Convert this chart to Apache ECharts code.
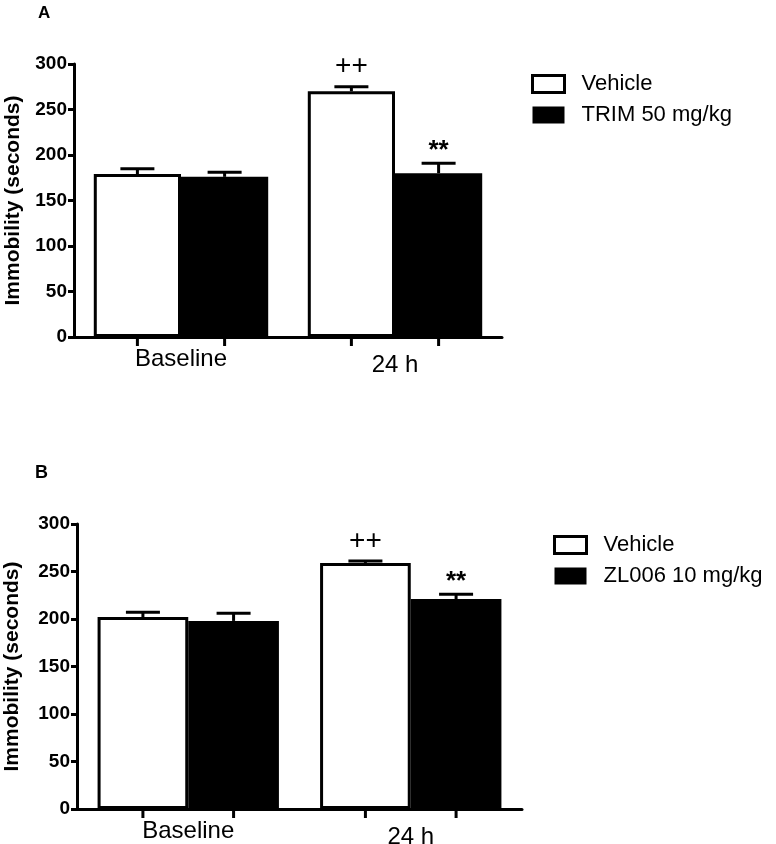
<!DOCTYPE html>
<html lang="en" style="height: 100%">
<head>
  <meta charset="utf-8">
</head>
<body style="height: 100%; margin: 0; background: #fff">
  <div id="container" style="height: 100%"></div>

  <script type="text/javascript" src="https://cdn.jsdelivr.net/npm/echarts@6/dist/echarts.min.js"></script>

  <script type="text/javascript">
    var dom = document.getElementById('container');
    var myChart = echarts.init(dom, null, { renderer: 'canvas' });

    // data
    var categories = ['Baseline', '24 h'];
    var vehicleA = [179, 270];
    var vehicleAErr = [185, 275];
    var trimA = [176, 180];
    var trimAErr = [181, 191];
    var marksA = ['', '', '++', '**']; // vehicle base, trim base, vehicle 24h, trim 24h

    var vehicleB = [202, 259];
    var vehicleBErr = [207, 261];
    var zlB = [198, 221];
    var zlBErr = [206, 226];
    var marksB = ['', '', '++', '**'];

    var GAP = 0.185;
    var FONT = 'Liberation Sans, Arial, sans-serif';

    // rows: [category, mean, errTop, slot(0 left / 1 right)]
    function errRows(m0, e0, m1, e1) {
      var rows = [];
      for (var i = 0; i < categories.length; i++) {
        rows.push([i, m0[i], e0[i], 0]);
        rows.push([i, m1[i], e1[i], 1]);
      }
      return rows;
    }

    function makeRender(marks) {
      return function (params, api) {
        var cat = api.value(0);
        var base = api.coord([cat, api.value(1)]);
        var top = api.coord([cat, api.value(2)]);
        var zero = api.coord([cat, 0]);
        var band = api.size([1, 0])[0];
        var barW = band * (1 - GAP) / 2;
        var x = base[0] + (api.value(3) === 0 ? -barW / 2 : barW / 2);
        var lw = 3;
        var children = [
          { type: 'line', shape: { x1: x, y1: base[1], x2: x, y2: top[1] }, style: { stroke: '#000', lineWidth: lw } },
          { type: 'line', shape: { x1: x - 17, y1: top[1], x2: x + 17, y2: top[1] }, style: { stroke: '#000', lineWidth: lw } },
          { type: 'line', shape: { x1: x, y1: zero[1], x2: x, y2: zero[1] + 9 }, style: { stroke: '#000', lineWidth: lw } }
        ];
        var m = marks[params.dataIndex];
        if (m) {
          children.push({
            type: 'text',
            style: {
              text: m, x: x, y: top[1] + (m === '**' ? 1 : -6),
              align: 'center', verticalAlign: 'bottom',
              font: (m === '**' ? 'bold 26px ' : '28px ') + FONT, fill: '#000'
            }
          });
        }
        return { type: 'group', children: children };
      };
    }

    function yAxisOpt(gridIndex, gap) {
      return {
        type: 'value', gridIndex: gridIndex, min: 0, max: 300, interval: 50,
        name: 'Immobility (seconds)', nameLocation: 'middle', nameGap: gap,
        nameTextStyle: { fontFamily: FONT, fontWeight: 'bold', fontSize: 21, color: '#000' },
        axisLine: { show: true, lineStyle: { color: '#000', width: 3 } },
        axisTick: { show: true, length: 6, lineStyle: { color: '#000', width: 3 } },
        axisLabel: { fontFamily: FONT, fontWeight: 'bold', fontSize: 19, color: '#000', margin: 7 },
        splitLine: { show: false }
      };
    }

    function xAxisOpt(gridIndex) {
      return {
        type: 'category', gridIndex: gridIndex, data: categories,
        axisLine: { lineStyle: { color: '#000', width: 3 } },
        axisTick: { show: false },
        axisLabel: {
          margin: 10,
          formatter: function (v) { return v === '24 h' ? '{h|' + v + '}' : '{b|' + v + '}'; },
          rich: {
            b: { fontFamily: FONT, fontSize: 24, color: '#000' },
            h: { fontFamily: FONT, fontSize: 24, color: '#000', padding: [6, 0, 0, 0] }
          }
        }
      };
    }

    var whiteBar = { color: '#fff', borderColor: '#000', borderWidth: 3 };
    var blackBar = { color: '#000', borderColor: '#000', borderWidth: 3 };

    function legendOpt(left, top, other) {
      return {
        orient: 'vertical', left: left, top: top, padding: 0,
        itemWidth: 32, itemHeight: 17, itemGap: 9,
        textStyle: { fontFamily: FONT, fontSize: 22, color: '#000', padding: [0, 0, 0, 12] },
        data: [
          { name: 'Vehicle', icon: 'rect', itemStyle: { color: '#fff', borderColor: '#000', borderWidth: 3 } },
          { name: other, icon: 'rect', itemStyle: { color: '#000', borderColor: '#000', borderWidth: 0 } }
        ],
        selectedMode: false
      };
    }

    var option = {
      backgroundColor: '#fff',
      animation: false,
      title: [
        { text: 'A', left: 33, top: 0, textStyle: { fontFamily: FONT, fontWeight: 'bold', fontSize: 17, color: '#000' } },
        { text: 'B', left: 30, top: 459, textStyle: { fontFamily: FONT, fontWeight: 'bold', fontSize: 18, color: '#000' } }
      ],
      grid: [
        { left: 74, right: 274, top: 64, height: 273, outerBoundsMode: 'none' },
        { left: 77, right: 254, top: 524, height: 285, outerBoundsMode: 'none' }
      ],
      xAxis: [xAxisOpt(0), xAxisOpt(1)],
      yAxis: [yAxisOpt(0, 50), yAxisOpt(1, 54)],
      legend: [legendOpt(531, 73, 'TRIM 50 mg/kg'), legendOpt(553, 534, 'ZL006 10 mg/kg')],
      series: [
        { name: 'Vehicle', type: 'bar', xAxisIndex: 0, yAxisIndex: 0, data: vehicleA, barGap: '0%', barCategoryGap: (GAP * 100) + '%', itemStyle: whiteBar },
        { name: 'TRIM 50 mg/kg', type: 'bar', xAxisIndex: 0, yAxisIndex: 0, data: trimA, itemStyle: blackBar },
        {
          type: 'custom', xAxisIndex: 0, yAxisIndex: 0, z: 5, clip: false,
          data: errRows(vehicleA, vehicleAErr, trimA, trimAErr),
          renderItem: makeRender(marksA)
        },
        { name: 'Vehicle', type: 'bar', xAxisIndex: 1, yAxisIndex: 1, data: vehicleB, barGap: '0%', barCategoryGap: (GAP * 100) + '%', itemStyle: whiteBar },
        { name: 'ZL006 10 mg/kg', type: 'bar', xAxisIndex: 1, yAxisIndex: 1, data: zlB, itemStyle: blackBar },
        {
          type: 'custom', xAxisIndex: 1, yAxisIndex: 1, z: 5, clip: false,
          data: errRows(vehicleB, vehicleBErr, zlB, zlBErr),
          renderItem: makeRender(marksB)
        }
      ]
    };

    myChart.setOption(option);
    window.addEventListener('resize', myChart.resize);
  </script>
</body>
</html>
